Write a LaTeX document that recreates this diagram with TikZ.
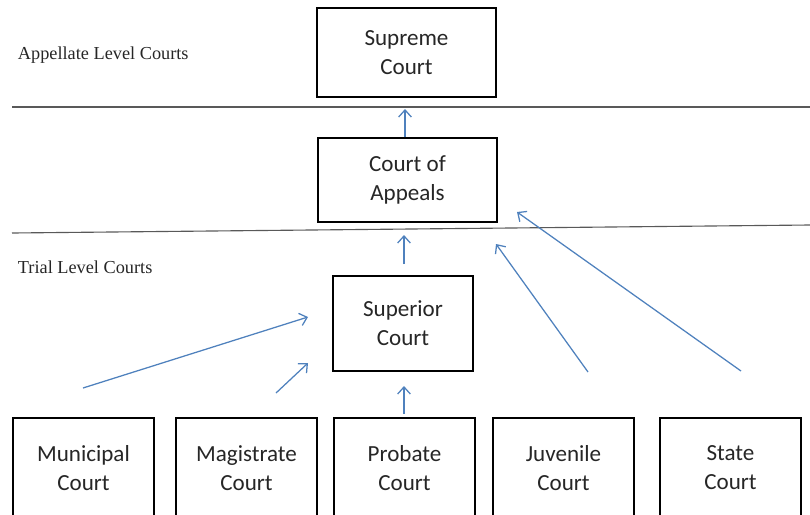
\documentclass[tikz,border=0pt]{standalone}
\usepackage{fontspec}
\setmainfont{Carlito}
\newfontfamily\labelfont{Liberation Serif}
\usetikzlibrary{arrows.meta}
\definecolor{arrowblue}{RGB}{79,129,189}
\begin{document}
\begin{tikzpicture}
        [x=0.025cm, y=-0.025cm,
        court/.style={rectangle, draw, line width=2pt, align=center, inner sep=0pt,
          font=\fontsize{16.4}{20.6}\selectfont, text=black!85},
        lower/.style={court, minimum width=3.525cm, minimum height=2.5cm},
        level/.style={anchor=west, font=\labelfont\fontsize{13}{15}\selectfont, text=black!85},
        link/.style={arrowblue, line width=0.9pt, -{Straight Barb[length=5pt, width=9pt]}},
        divider/.style={black!65, line width=0.8pt}]
        \clip (0,0) rectangle (810,514);
        \useasboundingbox (0,0) rectangle (810,514);

        \node[level] (appellate) at (13,55) {Appellate Level Courts};
        \node[level] (trial) at (13,267) {Trial Level Courts};

        \draw[divider] (12,107) -- (810,107);
        \draw[divider] (12,233) -- (810,225);

        \node[court, minimum width=4.475cm, minimum height=2.225cm] (supreme) at (406.5,52.5) {Supreme\\Court};
        \node[court, minimum width=4.475cm, minimum height=2.1cm] (appeals) at (407.5,180) {Court of\\Appeals};
        \node[court, minimum width=3.5cm, minimum height=2.375cm] (superior) at (403,323.5) {Superior\\Court};

        % bottom row runs off the page
        \node[lower] (municipal) at (83.5,468) {Municipal\\Court};
        \node[lower] (magistrate) at (246.5,468) {Magistrate\\Court};
        \node[lower] (probate) at (404.5,468) {Probate\\Court};
        \node[lower] (juvenile) at (563.5,468) {Juvenile\\Court};
        \node[lower] (state) at (730.5,468) {State\\Court};

        \coordinate (sup-a) at (405,137);  \coordinate (sup-b) at (405,109);
        \coordinate (app-a) at (404,264);  \coordinate (app-b) at (404,235);
        \coordinate (mun-a) at (83,388);   \coordinate (mun-b) at (308,317);
        \coordinate (mag-a) at (276,393);  \coordinate (mag-b) at (308,363);
        \coordinate (pro-a) at (404,414);  \coordinate (pro-b) at (404,386);
        \coordinate (juv-a) at (588,372);  \coordinate (juv-b) at (496,244);
        \coordinate (sta-a) at (741,371);  \coordinate (sta-b) at (517,212);

        \draw[link] (sup-a) -- (sup-b);
        \draw[link] (app-a) -- (app-b);
        \draw[link] (mun-a) -- (mun-b);
        \draw[link] (mag-a) -- (mag-b);
        \draw[link] (pro-a) -- (pro-b);
        \draw[link] (juv-a) -- (juv-b);
        \draw[link] (sta-a) -- (sta-b);
    \end{tikzpicture}
\end{document}
